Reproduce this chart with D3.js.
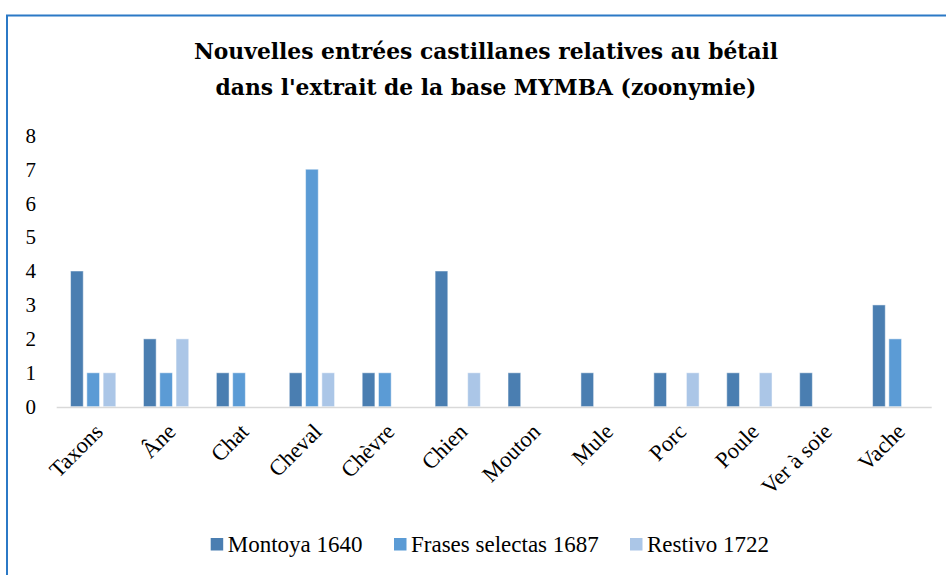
<!DOCTYPE html>
<meta charset="utf-8"/>
<head>
<style>
  body { margin:0; background:#fff; }
  text { font-family:"Liberation Serif", "DejaVu Serif", serif; fill:#000; }
</style>
<script src="https://d3js.org/d3.v7.min.js" charset="utf-8"></script>
</head>
<body>
<script>
  // data
  var categories = ["Taxons", "Âne", "Chat", "Cheval", "Chèvre", "Chien", "Mouton", "Mule", "Porc", "Poule", "Ver à soie", "Vache"];
  var seriesNames = ["Montoya 1640", "Frases selectas 1687", "Restivo 1722"];
  var montoya = [4, 2, 1, 1, 1, 4, 1, 1, 1, 1, 1, 3];
  var frases = [1, 1, 1, 7, 1, 0, 0, 0, 0, 0, 0, 2];
  var restivo = [1, 2, 0, 1, 0, 1, 0, 0, 1, 1, 0, 0];
  var yTicks = [0, 1, 2, 3, 4, 5, 6, 7, 8];
  var colors = ["#4a7eb1", "#5b9bd5", "#abc6e7"];
  var titleLines = ["Nouvelles entrées castillanes relatives au bétail", "dans l'extrait de la base MYMBA (zoonymie)"];

  var width = 946, height = 575;
  var values = [montoya, frases, restivo];

  var svg = d3.select("body").append("svg")
    .attr("width", width)
    .attr("height", height);

  // chart frame
  svg.append("rect")
    .attr("x", 7).attr("y", 15.5)
    .attr("width", 960).attr("height", 600)
    .attr("fill", "none")
    .attr("stroke", "#2b79c6")
    .attr("stroke-width", 2);

  // title
  svg.append("text")
    .attr("x", 486).attr("y", 59)
    .attr("text-anchor", "middle")
    .style("font-family", "'DejaVu Serif', serif")
    .style("font-size", "21.8px").style("font-weight", "bold")
    .selectAll("tspan").data(titleLines).enter().append("tspan")
    .attr("x", 486)
    .attr("dy", function(d, i) { return i ? 36 : 0; })
    .text(function(d) { return d; });

  var x0 = d3.scaleBand()
    .domain(categories)
    .range([56.7, 931.7])
    .paddingInner(0.379)
    .paddingOuter(0.19);

  var x1 = d3.scaleBand()
    .domain(d3.range(seriesNames.length))
    .range([0, x0.bandwidth()])
    .paddingInner(0.22);

  var y = d3.scaleLinear()
    .domain([0, 8])
    .range([406.7, 135.3]);

  // y tick labels (no axis line, no gridlines)
  svg.append("g").selectAll("text").data(yTicks).enter().append("text")
    .attr("x", 36)
    .attr("y", function(d) { return y(d); })
    .attr("dy", "0.35em")
    .attr("text-anchor", "end")
    .style("font-size", "21px")
    .text(function(d) { return d; });

  // bars
  var groups = svg.append("g").selectAll("g").data(categories).enter().append("g")
    .attr("transform", function(d) { return "translate(" + x0(d) + ",0)"; });

  groups.selectAll("rect")
    .data(function(d, i) { return values.map(function(s, k) { return { k: k, v: s[i] }; }); })
    .enter().filter(function(d) { return d.v > 0; }).append("rect")
    .attr("x", function(d) { return x1(d.k); })
    .attr("y", function(d) { return y(d.v); })
    .attr("width", x1.bandwidth())
    .attr("height", function(d) { return y(0) - y(d.v); })
    .attr("fill", function(d) { return colors[d.k]; })
    .attr("stroke", "#ffffff")
    .attr("stroke-opacity", 0.5)
    .attr("stroke-width", 1);

  // category axis line
  svg.append("line")
    .attr("x1", 56.7).attr("x2", 931.7)
    .attr("y1", 407.5).attr("y2", 407.5)
    .attr("stroke", "#d9d9d9")
    .attr("stroke-width", 1.5);

  // rotated category labels
  svg.append("g").selectAll("text").data(categories).enter().append("text")
    .attr("text-anchor", "end")
    .attr("transform", function(d) {
      var cx = x0(d) + x0.bandwidth() / 2 + 11;
      return "translate(" + cx + ",433) rotate(-45)";
    })
    .style("font-size", "22.5px")
    .text(function(d) { return d; });

  // legend
  var legendX = [210.7, 394, 630];
  var legend = svg.append("g").selectAll("g").data(seriesNames).enter().append("g")
    .attr("transform", function(d, i) { return "translate(" + legendX[i] + ",538)"; });

  legend.append("rect")
    .attr("width", 12.5).attr("height", 12.5)
    .attr("fill", function(d, i) { return colors[i]; });

  legend.append("text")
    .attr("x", 17)
    .attr("y", 13.5)
    .style("font-size", "23px")
    .text(function(d) { return d; });
</script>
</body>
